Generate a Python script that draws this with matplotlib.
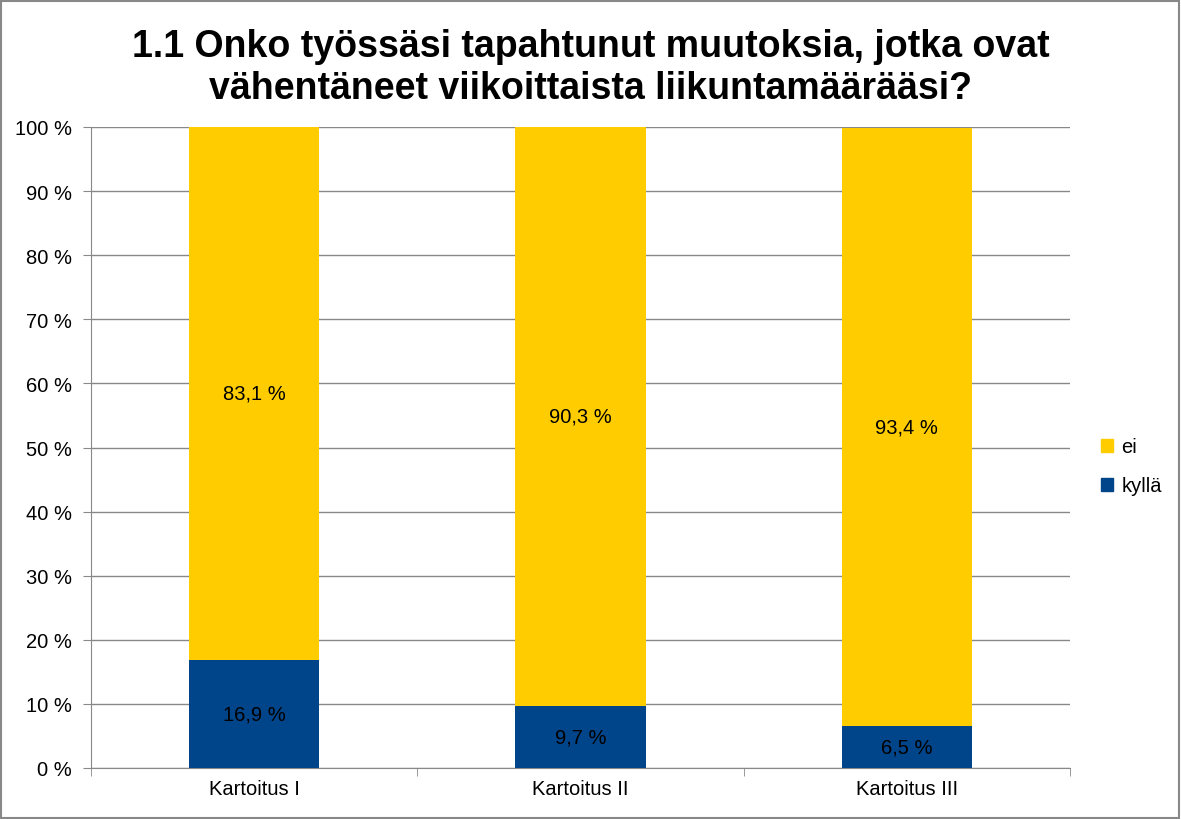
import matplotlib.pyplot as plt
from matplotlib.patches import Rectangle, Patch
from matplotlib.ticker import FixedLocator, NullFormatter

plt.rcParams['font.family'] = ['Liberation Sans', 'DejaVu Sans']

categories = ['Kartoitus I', 'Kartoitus II', 'Kartoitus III']
kylla = [16.9, 9.7, 6.5]
ei = [83.1, 90.3, 93.4]
yticks = [0, 10, 20, 30, 40, 50, 60, 70, 80, 90, 100]

blue = '#004489'
yellow = '#FFCC00'
fs = 14.5

fig = plt.figure(figsize=(11.81, 8.20), dpi=100)
ax = fig.add_axes([91 / 1181, 51 / 820, 979 / 1181, 641 / 820])

x = range(len(categories))
ax.bar(x, kylla, width=0.4, color=blue, zorder=3)
ax.bar(x, ei, width=0.4, bottom=kylla, color=yellow, zorder=3)

for i in x:
    ax.text(i, kylla[i] / 2, f'{kylla[i]:.1f} %'.replace('.', ','),
            ha='center', va='center', fontsize=fs, zorder=4)
    ax.text(i, kylla[i] + ei[i] / 2, f'{ei[i]:.1f} %'.replace('.', ','),
            ha='center', va='center', fontsize=fs, zorder=4)

ax.set_xlim(-0.5, len(categories) - 0.5)
ax.set_ylim(0, 100)
ax.set_yticks(yticks)
ax.set_yticklabels([f'{t} %' for t in yticks])
ax.set_xticks(list(x))
ax.set_xticklabels(categories)
ax.xaxis.set_minor_locator(FixedLocator([-0.5, 0.5, 1.5, 2.5]))
ax.xaxis.set_minor_formatter(NullFormatter())
ax.tick_params(axis='x', which='major', length=0, labelsize=fs, pad=8)
ax.tick_params(axis='x', which='minor', length=6, color='#888888', direction='out')
ax.tick_params(axis='y', length=6, color='#888888', labelsize=fs, pad=8)
ax.grid(axis='y', color='#888888', linewidth=1, zorder=0)
for side in ['top', 'right']:
    ax.spines[side].set_visible(False)
for side in ['left', 'bottom']:
    ax.spines[side].set_color('#888888')

handles = [Patch(color=yellow), Patch(color=blue)]
fig.legend(handles, ['ei', 'kyllä'], loc='center left',
           bbox_to_anchor=(1083 / 1181, 0.43), frameon=False,
           fontsize=fs, handlelength=0.6, handleheight=0.6,
           handletextpad=0.4, labelspacing=1.0)

fig.text(0.5, 1 - 68 / 820,
         '1.1 Onko työssäsi tapahtunut muutoksia, jotka ovat\nvähentäneet viikoittaista liikuntamäärääsi?',
         ha='center', va='center', fontsize=27, fontweight='bold', linespacing=1.22)

fig.patches.append(Rectangle((0.001, 0.001), 0.997, 0.997, transform=fig.transFigure,
                             fill=False, edgecolor='#888888', linewidth=1.5))

fig.savefig('out.png', dpi=100)
